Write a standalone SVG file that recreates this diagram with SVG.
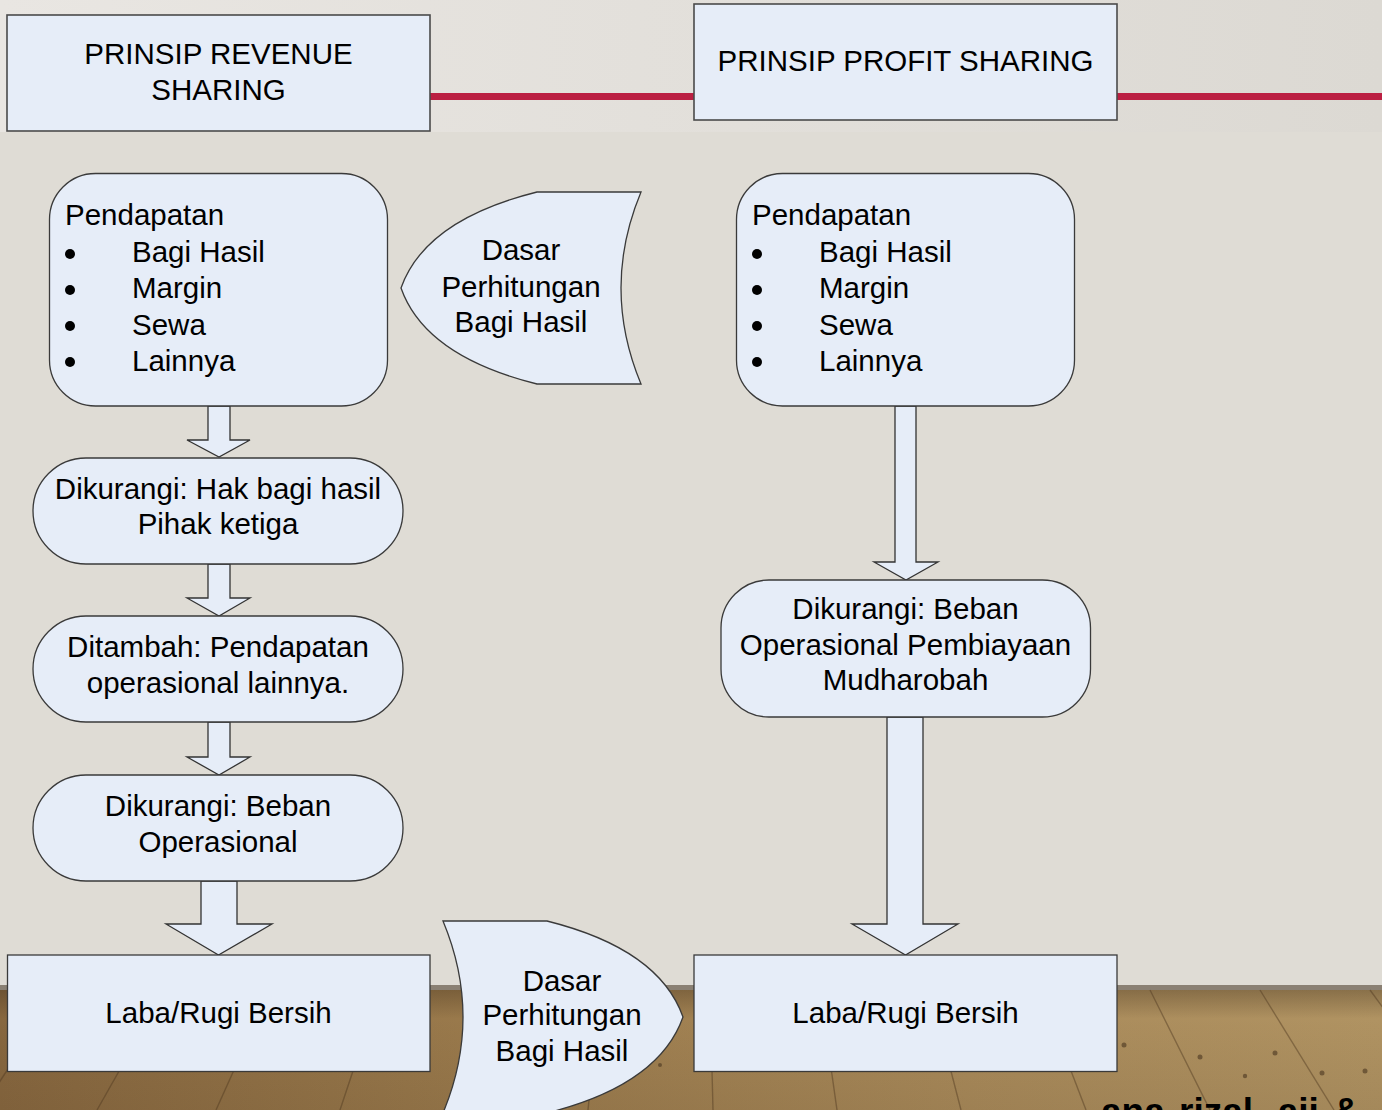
<svg xmlns="http://www.w3.org/2000/svg" width="1382" height="1110" viewBox="0 0 1382 1110">
<defs>
<linearGradient id="band" x1="0" y1="0" x2="1" y2="0">
<stop offset="0" stop-color="#e9e6e2"/>
<stop offset="1" stop-color="#dcd9d3"/>
</linearGradient>
<linearGradient id="wood" x1="0" y1="0" x2="1" y2="0">
<stop offset="0" stop-color="#87673f"/>
<stop offset="0.35" stop-color="#9a7a4c"/>
<stop offset="0.7" stop-color="#a98a5a"/>
<stop offset="1" stop-color="#b09362"/>
</linearGradient>
<linearGradient id="woodv" x1="0" y1="0" x2="0" y2="1">
<stop offset="0" stop-color="#3a2a18" stop-opacity="0.35"/>
<stop offset="0.25" stop-color="#3a2a18" stop-opacity="0"/>
<stop offset="1" stop-color="#3a2a18" stop-opacity="0.1"/>
</linearGradient>
<style>
.box{fill:#e6edf8;stroke:#3a3a3a;stroke-width:1.3}
.hdr{fill:#e6edf8;stroke:#4a4a4a;stroke-width:1.6}
.arr{fill:#e6edf8;stroke:#333;stroke-width:1.3;stroke-linejoin:miter}
.t{font-family:"Liberation Sans",Arial,sans-serif;font-size:29.5px;fill:#000}
.c{text-anchor:middle}
.seam{stroke:#4e3820;stroke-width:1.4;stroke-opacity:0.45;fill:none}
.knot{fill:#4a3520;fill-opacity:0.6}
</style>
</defs>

<!-- background -->
<rect x="0" y="0" width="1382" height="1110" fill="#dfdcd5"/>
<rect x="0" y="0" width="1382" height="132" fill="url(#band)"/>
<rect x="0" y="988" width="1382" height="122" fill="url(#wood)"/>
<rect x="0" y="988" width="1382" height="122" fill="url(#woodv)"/>
<rect x="0" y="985" width="1382" height="5" fill="#8a8073"/>
<g class="seam">
<path d="M-60,990 L-154,1110"/><path d="M60,990 L-19,1110"/><path d="M165,990 L97,1110"/>
<path d="M270,990 L216,1110"/><path d="M380,990 L340,1110"/><path d="M490,990 L464,1110"/>
<path d="M600,990 L588,1110"/><path d="M710,990 L713,1110"/><path d="M820,990 L837,1110"/>
<path d="M930,990 L961,1110"/><path d="M1040,990 L1086,1110"/><path d="M1150,990 L1210,1110"/>
<path d="M1260,990 L1334,1110"/><path d="M1370,990 L1458,1110"/>
</g>
<g>
<circle class="knot" cx="1124" cy="1045" r="2.5"/><circle class="knot" cx="1200" cy="1057" r="2.5"/>
<circle class="knot" cx="1275" cy="1053" r="2.5"/><circle class="knot" cx="1322" cy="1073" r="2.5"/>
<circle class="knot" cx="1365" cy="1071" r="2.5"/><circle class="knot" cx="1245" cy="1076" r="2.2"/>
<circle class="knot" cx="30" cy="1050" r="2"/><circle class="knot" cx="660" cy="1065" r="2"/>
</g>

<!-- header red rule -->
<g id="rule">
<rect x="430" y="93" width="264" height="7" fill="#bb1f42"/>
<rect x="1117" y="93" width="265" height="7" fill="#bb1f42"/>
</g>

<g id="hdr-revenue">
<rect class="hdr" x="7" y="15" width="423" height="116"/>
<text class="t c" x="218.5" y="64">PRINSIP REVENUE</text>
<text class="t c" x="218.5" y="100">SHARING</text>
</g>
<g id="hdr-profit">
<rect class="hdr" x="694" y="4" width="423" height="116"/>
<text class="t c" x="905.5" y="71">PRINSIP PROFIT SHARING</text>
</g>

<!-- connectors -->
<g id="connectors">
<path class="arr" d="M208,406 L230,406 L230,440 L250,440 L219,457 L187,440 L208,440 Z"/>
<path class="arr" d="M208,564 L230,564 L230,598 L250,598 L219,616 L187,598 L208,598 Z"/>
<path class="arr" d="M208,722 L230,722 L230,757 L250,757 L219,775 L187,757 L208,757 Z"/>
<path class="arr" d="M201,881 L237,881 L237,924 L272,924 L218.5,955 L166,924 L201,924 Z"/>
<path class="arr" d="M895,406 L916,406 L916,562 L938,562 L906,580 L874,562 L895,562 Z"/>
<path class="arr" d="M887,717 L923,717 L923,924 L958,924 L905.5,955 L852,924 L887,924 Z"/>
</g>

<g id="rev-pendapatan">
<rect class="box" x="49.5" y="173.5" width="338" height="232.5" rx="46" ry="46"/>
<text class="t" x="65" y="225">Pendapatan</text>
<circle cx="70" cy="254" r="5"/><text class="t" x="132" y="261.5">Bagi Hasil</text>
<circle cx="70" cy="290" r="5"/><text class="t" x="132" y="298">Margin</text>
<circle cx="70" cy="326" r="5"/><text class="t" x="132" y="334.5">Sewa</text>
<circle cx="70" cy="362" r="5"/><text class="t" x="132" y="371">Lainnya</text>
</g>

<g id="rev-dasar">
<path class="box" d="M537,192 L641,192 Q601,288 641,384 L537,384 Q425,356 401,288 Q425,220 537,192 Z"/>
<text class="t c" x="521" y="260">Dasar</text>
<text class="t c" x="521" y="296.5">Perhitungan</text>
<text class="t c" x="521" y="332">Bagi Hasil</text>
</g>

<g id="rev-hak">
<rect class="box" x="33" y="458" width="370" height="106" rx="53" ry="53"/>
<text class="t c" x="218" y="499">Dikurangi: Hak bagi hasil</text>
<text class="t c" x="218" y="534">Pihak ketiga</text>
</g>

<g id="rev-tambah">
<rect class="box" x="33" y="616" width="370" height="106" rx="53" ry="53"/>
<text class="t c" x="218" y="657">Ditambah: Pendapatan</text>
<text class="t c" x="218" y="693">operasional lainnya.</text>
</g>

<g id="rev-beban">
<rect class="box" x="33" y="775" width="370" height="106" rx="53" ry="53"/>
<text class="t c" x="218" y="816">Dikurangi: Beban</text>
<text class="t c" x="218" y="852">Operasional</text>
</g>

<g id="rev-laba">
<rect class="box" x="7.5" y="955" width="422.5" height="116.5"/>
<text class="t c" x="218.5" y="1023">Laba/Rugi Bersih</text>
</g>

<g id="mid-dasar">
<path class="box" d="M443,921 L547,921 Q659,949 683,1017 Q659,1085 547,1113 L443,1113 Q483,1017 443,921 Z"/>
<text class="t c" x="562" y="991">Dasar</text>
<text class="t c" x="562" y="1025">Perhitungan</text>
<text class="t c" x="562" y="1061">Bagi Hasil</text>
</g>

<g id="prof-pendapatan">
<rect class="box" x="736.5" y="173.5" width="338" height="232.5" rx="46" ry="46"/>
<text class="t" x="752" y="225">Pendapatan</text>
<circle cx="757" cy="254" r="5"/><text class="t" x="819" y="261.5">Bagi Hasil</text>
<circle cx="757" cy="290" r="5"/><text class="t" x="819" y="298">Margin</text>
<circle cx="757" cy="326" r="5"/><text class="t" x="819" y="334.5">Sewa</text>
<circle cx="757" cy="362" r="5"/><text class="t" x="819" y="371">Lainnya</text>
</g>

<g id="prof-beban">
<rect class="box" x="721" y="580" width="369.5" height="137" rx="48" ry="48"/>
<text class="t c" x="905.5" y="619">Dikurangi: Beban</text>
<text class="t c" x="905.5" y="655">Operasional Pembiayaan</text>
<text class="t c" x="905.5" y="690">Mudharobah</text>
</g>

<g id="prof-laba">
<rect class="box" x="694" y="955" width="423" height="116.5"/>
<text class="t c" x="905.5" y="1023">Laba/Rugi Bersih</text>
</g>

<text x="1101" y="1124" font-family="'Liberation Sans',Arial,sans-serif" font-size="37" font-weight="bold" word-spacing="4" fill="#000">ana rizal, aji &amp;</text>
</svg>
